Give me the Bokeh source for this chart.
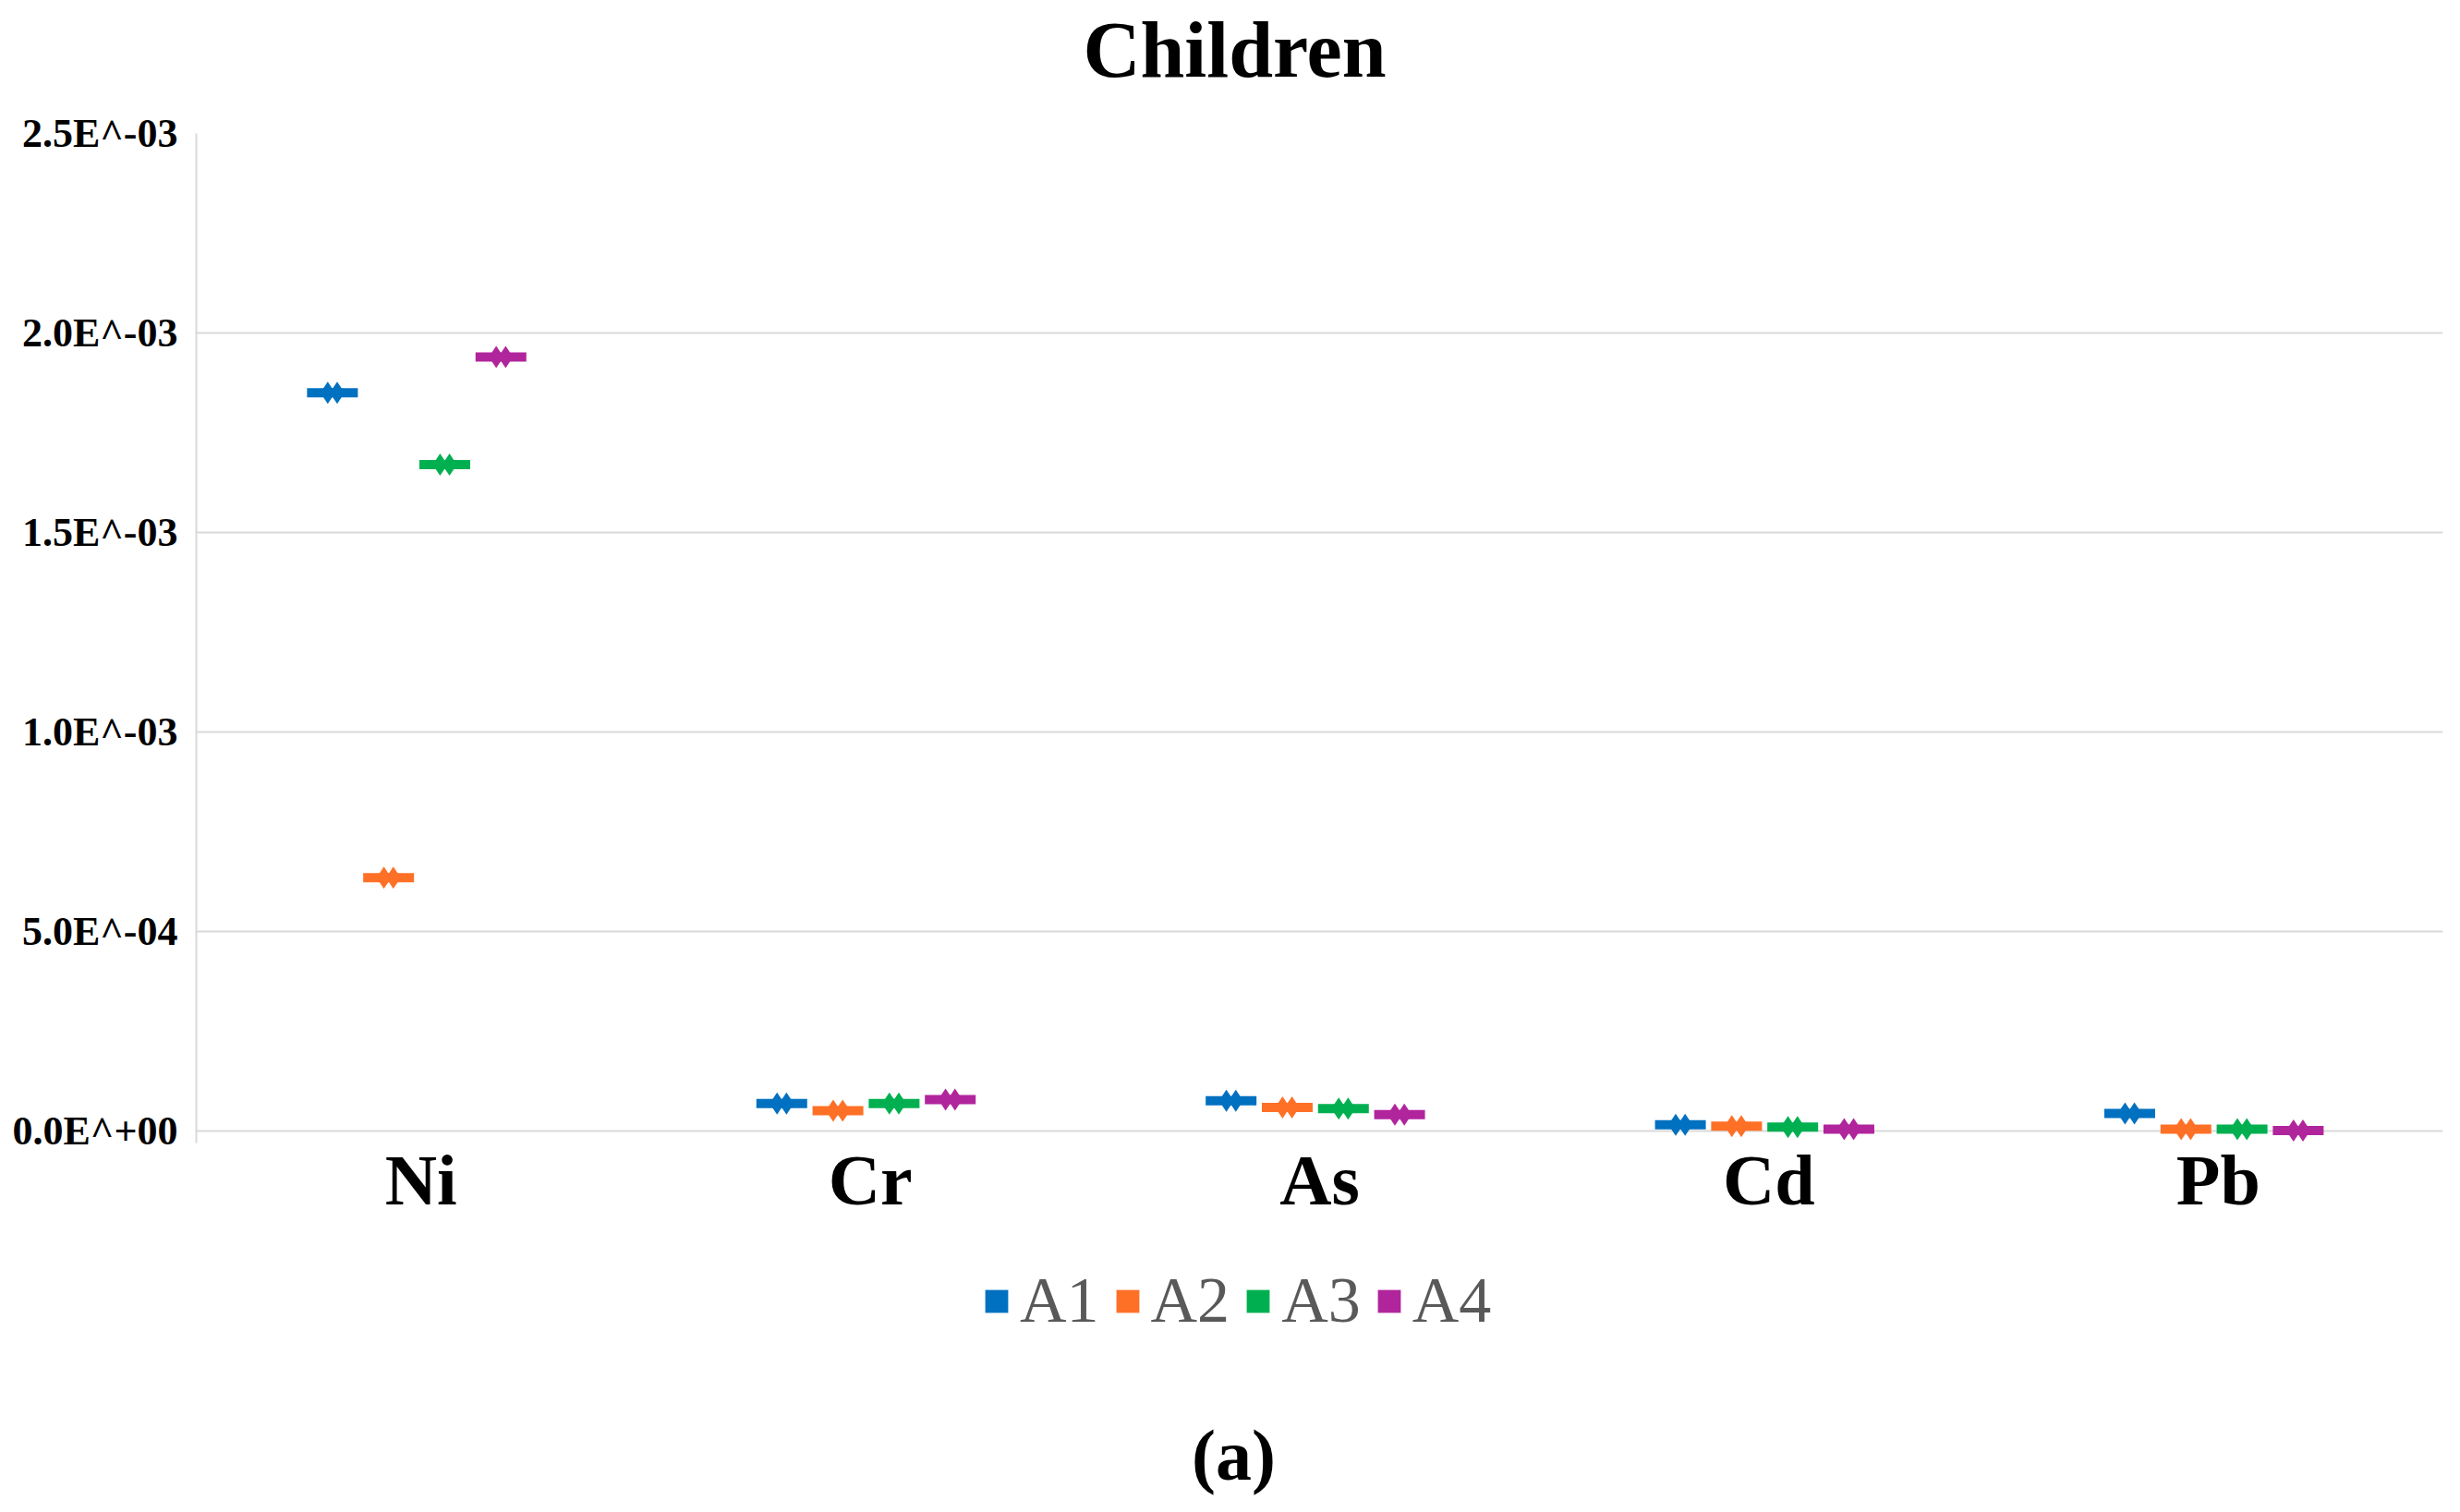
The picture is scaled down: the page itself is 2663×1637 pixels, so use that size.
from bokeh.plotting import figure
from bokeh.layouts import column
from bokeh.models import (FactorRange, Range1d, FixedTicker, Legend, LegendItem,
                          Label, ColumnDataSource)
from bokeh.transform import dodge
from bokeh.embed import file_html
from bokeh.resources import INLINE

# ---- data ----
categories = ["Ni", "Cr", "As", "Cd", "Pb"]
series_names = ["A1", "A2", "A3", "A4"]
A1 = [1.850e-3, 6.9e-5, 7.6e-5, 1.6e-5, 4.4e-5]
A2 = [6.35e-4, 5.1e-5, 5.9e-5, 1.2e-5, 4.6e-6]
A3 = [1.670e-3, 6.9e-5, 5.6e-5, 1.0e-5, 5.0e-6]
A4 = [1.940e-3, 7.9e-5, 4.1e-5, 4.6e-6, 1.0e-6]
y_ticks = [0.0, 0.0005, 0.0010, 0.0015, 0.0020, 0.0025]
y_tick_labels = ["0.0E^+00", "5.0E^-04", "1.0E^-03", "1.5E^-03", "2.0E^-03", "2.5E^-03"]
title_text = "Children"
caption_text = "(a)"

# ---- styles ----
colors = ["#0070C0", "#FF7027", "#00B050", "#B1259C"]
offsets = [-0.197, -0.072, 0.053, 0.178]
bump = 0.0105
SERIF = "Liberation Serif"
GRID = "#d9d9d9"
W = 2655
H_TOP = 119
H_MAIN = 1221
H_BOT = 289


def strip(h):
    f = figure(x_range=Range1d(0, 1), y_range=Range1d(0, 1), width=W, height=h,
               output_backend="svg", toolbar_location=None, title=None,
               min_border_left=212, min_border_right=11, min_border_top=0,
               min_border_bottom=0)
    f.axis.visible = False
    f.grid.visible = False
    f.outline_line_color = None
    return f


# ---- top strip: title ----
t = strip(H_TOP)
t.add_layout(Label(x=1124, y=66, x_units="screen", y_units="screen",
                   text=title_text, text_align="center", text_baseline="middle",
                   text_font=SERIF, text_font_style="bold", text_font_size="86px",
                   text_color="black"))

# ---- main chart ----
p = figure(x_range=FactorRange(*categories, factor_padding=0, range_padding=0),
           y_range=Range1d(-3e-5, 2.5e-3), title=None,
           width=W, height=H_MAIN, output_backend="svg", toolbar_location=None,
           min_border_left=212, min_border_right=11, min_border_top=25,
           min_border_bottom=103)
p.outline_line_color = None
p.background_fill_color = "white"

series = [A1, A2, A3, A4]
for name, vals, col, off in zip(series_names, series, colors, offsets):
    src = ColumnDataSource(dict(cat=categories, val=vals))
    p.rect(x=dodge("cat", off, range=p.x_range), y="val", width=55, height=10,
           width_units="screen", height_units="screen", source=src,
           fill_color=col, line_color=None)
    for b in (-bump, bump):
        p.scatter(x=dodge("cat", off + b, range=p.x_range), y="val", marker="diamond",
                  size=24, source=src, fill_color=col, line_color=None)

# y axis
p.yaxis.ticker = FixedTicker(ticks=y_ticks)
p.yaxis.major_label_overrides = {t_: l for t_, l in zip(y_ticks, y_tick_labels)}
p.yaxis.major_label_text_font = SERIF
p.yaxis.major_label_text_font_style = "bold"
p.yaxis.major_label_text_font_size = "44px"
p.yaxis.major_label_text_color = "black"
p.yaxis.axis_line_color = GRID
p.yaxis.axis_line_width = 2
p.yaxis.major_tick_line_color = None
p.yaxis.minor_tick_line_color = None
p.yaxis.major_label_standoff = 14
p.ygrid.ticker = FixedTicker(ticks=y_ticks)
p.ygrid.grid_line_color = GRID
p.ygrid.grid_line_width = 2
p.xgrid.visible = False

# x axis
p.xaxis.axis_line_color = None
p.xaxis.major_tick_line_color = None
p.xaxis.minor_tick_line_color = None
p.xaxis.major_label_text_font = SERIF
p.xaxis.major_label_text_font_style = "bold"
p.xaxis.major_label_text_font_size = "78px"
p.xaxis.major_label_text_color = "black"
p.xaxis.major_label_standoff = -10

# ---- bottom strip: legend + caption ----
q = strip(H_BOT)
legend_items = []
for name, col in zip(series_names, colors):
    proxy = q.rect(x=[-1000], y=[-1000], width=1, height=1,
                   fill_color=col, line_color=None)
    legend_items.append(LegendItem(label=name, renderers=[proxy]))

legend = Legend(items=legend_items, orientation="horizontal", location=(851, 181),
                margin=0, padding=0, border_line_color=None,
                background_fill_alpha=0,
                glyph_width=31, glyph_height=31, label_standoff=10, spacing=15,
                label_text_font=SERIF, label_text_font_size="70px",
                label_text_color="#595959")
q.add_layout(legend)

q.add_layout(Label(x=1123, y=54, x_units="screen", y_units="screen",
                   text=caption_text, text_align="center", text_baseline="middle",
                   text_font=SERIF, text_font_style="bold", text_font_size="78px",
                   text_color="black"))

open("out.html", "w").write(file_html(column(t, p, q), INLINE))
